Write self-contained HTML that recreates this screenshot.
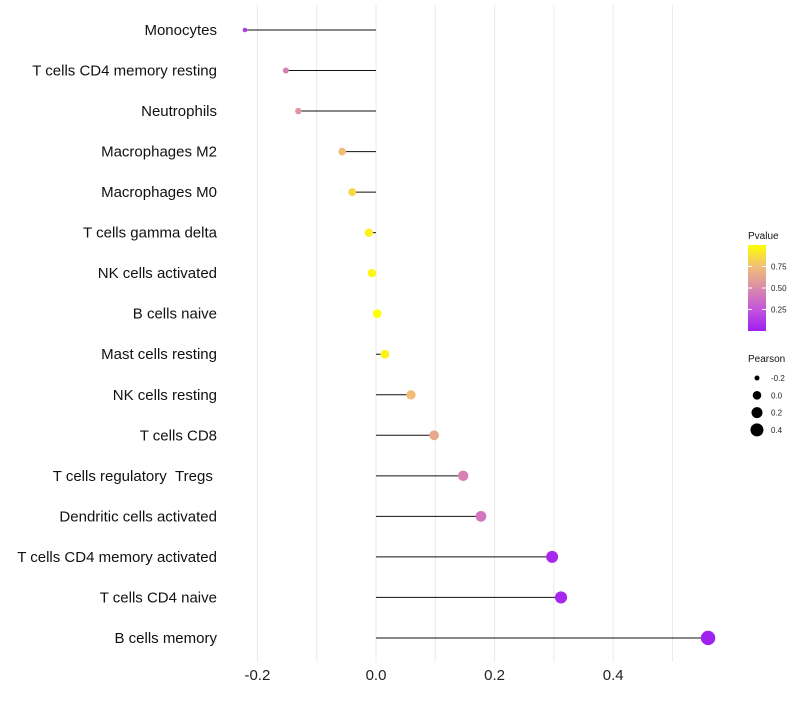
<!DOCTYPE html>
<html><head><meta charset="utf-8"><style>
body{margin:0;background:#fff;font-family:"Liberation Sans",sans-serif}
</style></head><body>
<svg id="chart" width="800" height="700" xmlns="http://www.w3.org/2000/svg"></svg>
<script>
const categories=["Monocytes","T cells CD4 memory resting","Neutrophils","Macrophages M2","Macrophages M0","T cells gamma delta","NK cells activated","B cells naive","Mast cells resting","NK cells resting","T cells CD8","T cells regulatory \u00a0Tregs\u00a0","Dendritic cells activated","T cells CD4 memory activated","T cells CD4 naive","B cells memory"];
const pearson=[-0.221,-0.152,-0.131,-0.057,-0.040,-0.012,-0.007,0.002,0.015,0.059,0.098,0.147,0.177,0.297,0.312,0.560];
const pvalue=[0.12,0.45,0.55,0.75,0.85,0.95,0.96,1.0,0.95,0.75,0.65,0.45,0.40,0.05,0.04,0.01];
const xTicks=[-0.2,0.0,0.2,0.4];
const xTickLabels=["-0.2","0.0","0.2","0.4"];
const pTicks=[0.25,0.5,0.75];
const sizeTicks=[-0.2,0.0,0.2,0.4];

const NS="http://www.w3.org/2000/svg";
const svg=document.getElementById('chart');
const X=v=>376+v*593;
const Y=i=>30+i*40.53;
const R=v=>Math.sqrt(Math.max(4,18.25+60*v));
function col(p){
  const st=[[0,[160,32,240]],[0.25,[196,84,220]],[0.5,[218,140,170]],[0.75,[240,190,120]],[1,[255,255,0]]];
  for(let i=0;i<st.length-1;i++){if(p<=st[i+1][0]){const t=(p-st[i][0])/(st[i+1][0]-st[i][0]);const a=st[i][1],b=st[i+1][1];return `rgb(${a.map((c,k)=>Math.round(c+(b[k]-c)*t)).join(',')})`;}}
  return 'rgb(255,255,0)';
}
function mk(tag,attrs,txt){const e=document.createElementNS(NS,tag);for(const k in attrs)e.setAttribute(k,attrs[k]);if(txt!==undefined)e.textContent=txt;svg.appendChild(e);return e;}
for(let v=-0.2;v<=0.55;v+=0.1){const g=mk('line',{x1:X(v),x2:X(v),y1:5,y2:662,stroke:'#ebebeb','stroke-width':1});

}
xTicks.forEach((v,i)=>{const t=mk('text',{x:X(v),y:680,'text-anchor':'middle','font-size':15,fill:'#222'},xTickLabels[i]);

});
categories.forEach((c,i)=>{
  const t=mk('text',{x:217,y:Y(i)+5,'text-anchor':'end','font-size':15,fill:'#111'},c);
  
  
  const l=mk('line',{x1:X(0),x2:X(pearson[i]),y1:Y(i),y2:Y(i),stroke:'#111','stroke-width':1});
  
  
  const p=mk('circle',{cx:X(pearson[i]),cy:Y(i),r:R(pearson[i]),fill:col(pvalue[i])});
  
  
});
const defs=mk('defs',{});
const lg=document.createElementNS(NS,'linearGradient');lg.setAttribute('id','g');lg.setAttribute('x1',0);lg.setAttribute('y1',1);lg.setAttribute('x2',0);lg.setAttribute('y2',0);
[0,0.25,0.5,0.75,1].forEach(o=>{const s=document.createElementNS(NS,'stop');s.setAttribute('offset',o);s.setAttribute('stop-color',col(o));lg.appendChild(s);});
defs.appendChild(lg);
const lt=mk('text',{x:748,y:239,'font-size':10,fill:'#111'},'Pvalue');


const cb=mk('rect',{x:748,y:245,width:18,height:86,fill:'url(#g)'});


pTicks.forEach(p=>{const y=331-p*86;mk('line',{x1:748,x2:752,y1:y,y2:y,stroke:'#fff'});mk('line',{x1:762,x2:766,y1:y,y2:y,stroke:'#fff'});
const t=mk('text',{x:771,y:y+3,'font-size':8,fill:'#222'},p.toFixed(2));

});
const st=mk('text',{x:748,y:362,'font-size':10,fill:'#111'},'Pearson');


sizeTicks.forEach((v,i)=>{const y=378+i*17.3;
const c=mk('circle',{cx:757,cy:y,r:R(v),fill:'#000'});


const t=mk('text',{x:771,y:y+3,'font-size':8,fill:'#222'},v.toFixed(1));

});
</script>
</body></html>
